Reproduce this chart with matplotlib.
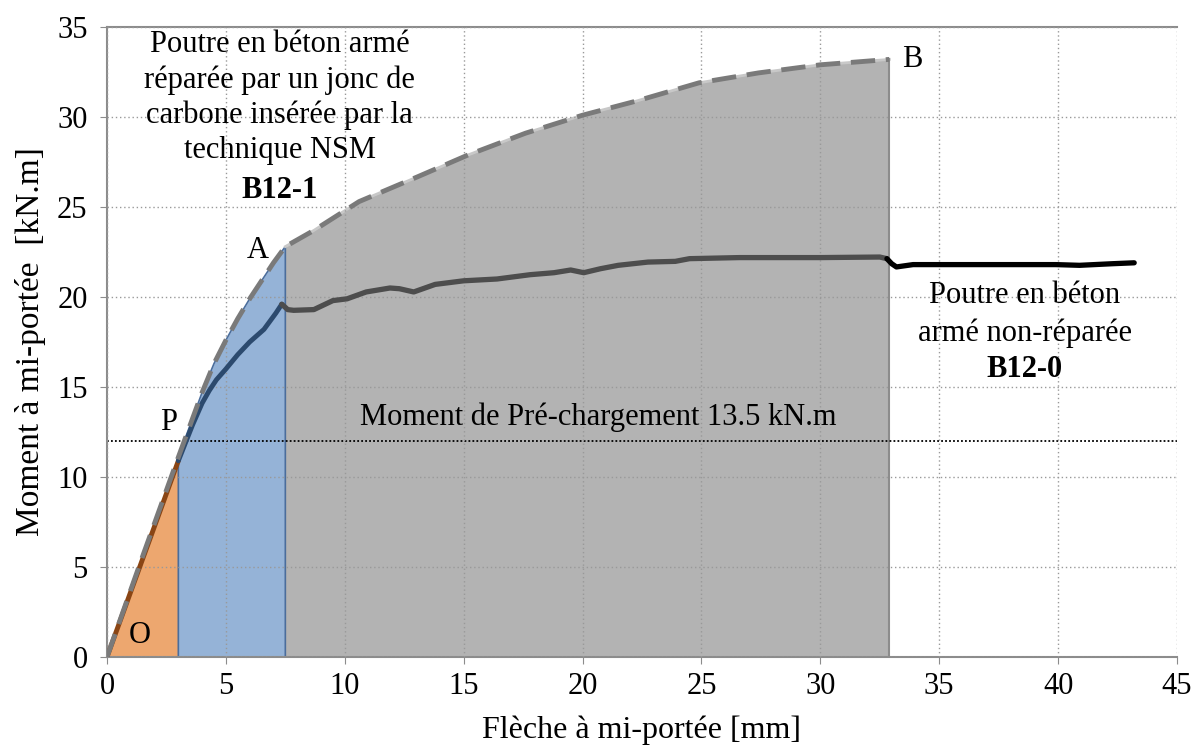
# plot.py
# Moment à mi-portée vs flèche : poutres B12-0 et B12-1
import matplotlib
matplotlib.use("Agg")
import matplotlib.pyplot as plt
import numpy as np

plt.rcParams["font.family"] = ["Liberation Serif", "DejaVu Serif"]

# Poutre réparée B12-1 (enveloppe tiretée)
x_b121 = [0, 1.5, 3.0, 3.5, 4.0, 4.5, 5.0, 5.5, 6.0, 6.5, 7.0, 7.5,
          8.7, 10.6, 13.1, 15.2, 17.6, 20.0, 22.3, 24.9, 27.4, 30.0, 32.9]
y_b121 = [0, 5.6, 11.1, 12.9, 14.7, 16.3, 17.6, 18.8, 19.9, 20.9, 21.9, 22.8,
          23.7, 25.3, 26.7, 27.9, 29.1, 30.1, 30.9, 31.9, 32.45, 32.9, 33.2]

# Poutre non-réparée B12-0
x_b120 = [0, 1.5, 3.0, 3.3, 3.6, 4.0, 4.3, 4.6, 5.0, 5.5, 6.0, 6.6, 7.1, 7.35,
          7.6, 7.85, 8.7, 9.5, 10.1, 10.9, 11.9, 12.3, 12.9, 13.8, 15.0, 16.4,
          17.8, 18.8, 19.5, 20.05, 20.75, 21.5, 22.75, 23.9, 24.5, 26.6, 30.0,
          32.5, 32.8, 33.0, 33.2, 33.9, 36.7, 39.9, 40.9, 42.3, 43.2]
y_b120 = [0, 5.45, 10.9, 11.9, 12.9, 14.1, 14.8, 15.4, 16.0, 16.8, 17.5, 18.2, 19.1, 19.6,
          19.3, 19.26, 19.3, 19.8, 19.9, 20.28, 20.5, 20.46, 20.28, 20.7, 20.9, 21.0,
          21.24, 21.35, 21.5, 21.35, 21.57, 21.76, 21.94, 21.98, 22.13, 22.19, 22.19,
          22.22, 22.13, 21.85, 21.67, 21.8, 21.8, 21.8, 21.76, 21.85, 21.9]

# Limites des zones (O-P, P-A, A-B)
x_p = 3.0
x_a = 7.5
x_b = 32.9
m_prechargement = 12.0

x_ticks = [0, 5, 10, 15, 20, 25, 30, 35, 40, 45]
y_ticks = [0, 5, 10, 15, 20, 25, 30, 35]

fig = plt.figure(figsize=(11.95, 7.56), dpi=100)
ax = fig.add_axes([107 / 1195, 99 / 756, 1070 / 1195, 630 / 756])

xb = np.array(x_b121)
yb = np.array(y_b121)
x0 = np.array(x_b120)
y0 = np.array(y_b120)

# zones colorées sous l'enveloppe B12-1
m1 = xb <= x_p
ax.fill_between(xb[m1], 0, yb[m1], color="#eda76f", lw=0, zorder=1)
m2 = (xb >= x_p) & (xb <= x_a)
ax.fill_between(xb[m2], 0, yb[m2], color="#95b3d7", lw=0, zorder=1)
ax.plot(np.r_[x_p, xb[m2], x_a], np.r_[0, yb[m2], 0], color="#4a6d9c", lw=1.2, zorder=1.2)
m3 = xb >= x_a
ax.fill_between(xb[m3], 0, yb[m3], color="#b3b3b3", lw=0, zorder=1)
ax.plot(xb[m3], yb[m3], color="#c8c8c8", lw=2, zorder=1.2)
ax.plot([x_b, x_b], [0, yb[-1]], color="#8c8c8c", lw=1.5, zorder=1.2)

# grille
ax.set_axisbelow(False)
ax.grid(True, which="major", ls=(0, (1, 2)), color="#999999", lw=1, zorder=1.5)

# ligne de pré-chargement
ax.axhline(m_prechargement, color="black", ls=(0, (1, 1.2)), lw=1.3, zorder=2)

# courbe B12-0, couleur selon la zone
def seg(lo, hi):
    m = (x0 >= lo) & (x0 <= hi)
    return x0[m], y0[m]

ax.plot(*seg(0, x_p), color="#8a4514", lw=3.5, solid_capstyle="round", zorder=3)
ax.plot(*seg(x_p, 7.4), color="#2c4a6e", lw=3.5, solid_capstyle="round", zorder=3)
ax.plot(*seg(7.35, 32.8), color="#4d4d4d", lw=3.8, solid_capstyle="round", zorder=3)
ax.plot(*seg(32.8, 45), color="black", lw=3.8, solid_capstyle="round", zorder=3)

# enveloppe B12-1 tiretée
ax.plot(xb, yb, color="#7a7a7a", lw=3.5, ls=(0, (5, 2.2)), zorder=3.5)

ax.set_xlim(0, 45)
ax.set_ylim(0, 35)
ax.set_xticks(x_ticks)
ax.set_yticks(y_ticks)
ax.tick_params(axis="both", labelsize=22, length=5, color="#8c8c8c", direction="out")
ax.tick_params(axis="x", pad=6)
ax.tick_params(axis="y", pad=9)
for s in ["left", "bottom", "top"]:
    ax.spines[s].set_color("#8c8c8c")
    ax.spines[s].set_linewidth(1.5)
ax.spines["right"].set_visible(False)

ax.set_xlabel("Flèche à mi-portée [mm]", fontsize=23, labelpad=10)
ax.set_ylabel("Moment à mi-portée  [kN.m]", fontsize=24, labelpad=8)

# annotations
fs = 22
lignes = ["Poutre en béton armé", "réparée par un jonc de",
          "carbone insérée par la", "technique NSM"]
for i, t in enumerate(lignes):
    ax.text(7.27, 34.0 - i * 1.95, t, ha="center", va="center", fontsize=fs, zorder=5)
ax.text(7.27, 25.9, "B12-1", ha="center", va="center", fontsize=fs,
        fontweight="bold", zorder=5)

ax.text(38.6, 20.1, "Poutre en béton", ha="center", va="center", fontsize=fs, zorder=5)
ax.text(38.6, 18.0, "armé non-réparée", ha="center", va="center", fontsize=fs, zorder=5)
ax.text(38.6, 15.95, "B12-0", ha="center", va="center", fontsize=fs,
        fontweight="bold", zorder=5)

ax.text(10.65, 13.3, "Moment de Pré-chargement 13.5 kN.m", ha="left", va="center",
        fontsize=fs, zorder=5)

ax.text(1.37, 1.2, "O", ha="center", va="center", fontsize=fs, zorder=5)
ax.text(2.6, 13.0, "P", ha="center", va="center", fontsize=fs, zorder=5)
ax.text(6.35, 22.6, "A", ha="center", va="center", fontsize=fs, zorder=5)
ax.text(33.85, 33.2, "B", ha="center", va="center", fontsize=fs, zorder=5)

fig.savefig("out.png", dpi=100)
